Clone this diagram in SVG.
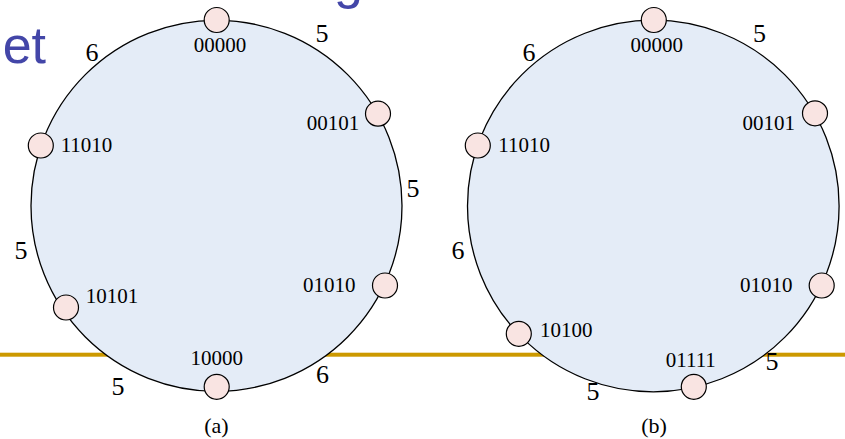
<svg xmlns="http://www.w3.org/2000/svg" width="845" height="439" viewBox="0 0 845 439">
<style>
.ring{fill:#E4ECF7;stroke:#000;stroke-width:1.3}
.nd{fill:#F9E4E2;stroke:#000;stroke-width:1.2}
.lb{font-family:"Liberation Serif","Times New Roman",serif;font-size:21px;fill:#000;text-anchor:middle}
.el{font-family:"Liberation Serif","Times New Roman",serif;font-size:26px;fill:#000;text-anchor:middle}
.cap{font-family:"Liberation Serif","Times New Roman",serif;font-size:22px;fill:#000;text-anchor:middle}
.ttl{font-family:"Liberation Sans",Arial,sans-serif;font-size:52px;fill:#4346A8}
</style>
<rect x="0" y="352.7" width="845" height="4" fill="#CC9900"/>
<text class="ttl" x="46" y="63.3" text-anchor="end">et</text>
<text class="ttl" x="334" y="-2">g</text>
<g id="connectors">
<circle class="ring" cx="216.5" cy="205.8" r="185.5"/>
<circle class="ring" cx="653.3" cy="206" r="185.8"/>
<text class="el" x="92" y="60.7">6</text>
<text class="el" x="322" y="41.7">5</text>
<text class="el" x="413" y="196.5">5</text>
<text class="el" x="21" y="259.3">5</text>
<text class="el" x="118" y="395">5</text>
<text class="el" x="322.5" y="383">6</text>
<text class="el" x="529" y="60.7">6</text>
<text class="el" x="759.5" y="41.7">5</text>
<text class="el" x="458" y="259.3">6</text>
<text class="el" x="593" y="400">5</text>
<text class="el" x="772" y="370">5</text>
</g>
<g id="a-00000"><circle class="nd" cx="216.7" cy="20" r="12.5"/><text class="lb" x="220" y="52">00000</text></g>
<g id="a-00101"><circle class="nd" cx="378" cy="113.7" r="12.5"/><text class="lb" x="333" y="130">00101</text></g>
<g id="a-01010"><circle class="nd" cx="385" cy="285.5" r="12.5"/><text class="lb" x="329.3" y="291.7">01010</text></g>
<g id="a-11010"><circle class="nd" cx="40.8" cy="145.5" r="12.5"/><text class="lb" x="86.5" y="152.3">11010</text></g>
<g id="a-10101"><circle class="nd" cx="66" cy="307.5" r="12.5"/><text class="lb" x="112" y="303.3">10101</text></g>
<g id="a-10000"><circle class="nd" cx="216.7" cy="386.8" r="12.5"/><text class="lb" x="216.7" y="365">10000</text></g>
<g id="b-00000"><circle class="nd" cx="653.8" cy="20" r="12.5"/><text class="lb" x="656.7" y="52">00000</text></g>
<g id="b-00101"><circle class="nd" cx="815" cy="113.3" r="12.5"/><text class="lb" x="768.8" y="130">00101</text></g>
<g id="b-01010"><circle class="nd" cx="821.7" cy="285.5" r="12.5"/><text class="lb" x="766.3" y="291.7">01010</text></g>
<g id="b-11010"><circle class="nd" cx="477.8" cy="145.5" r="12.5"/><text class="lb" x="524.2" y="152.3">11010</text></g>
<g id="b-10100"><circle class="nd" cx="518.8" cy="333.8" r="12.5"/><text class="lb" x="566.3" y="336.7">10100</text></g>
<g id="b-01111"><circle class="nd" cx="693.8" cy="386.8" r="12.5"/><text class="lb" x="690.8" y="366.7">01111</text></g>
<text class="cap" x="216.5" y="433">(a)</text>
<text class="cap" x="654" y="433">(b)</text>
</svg>
